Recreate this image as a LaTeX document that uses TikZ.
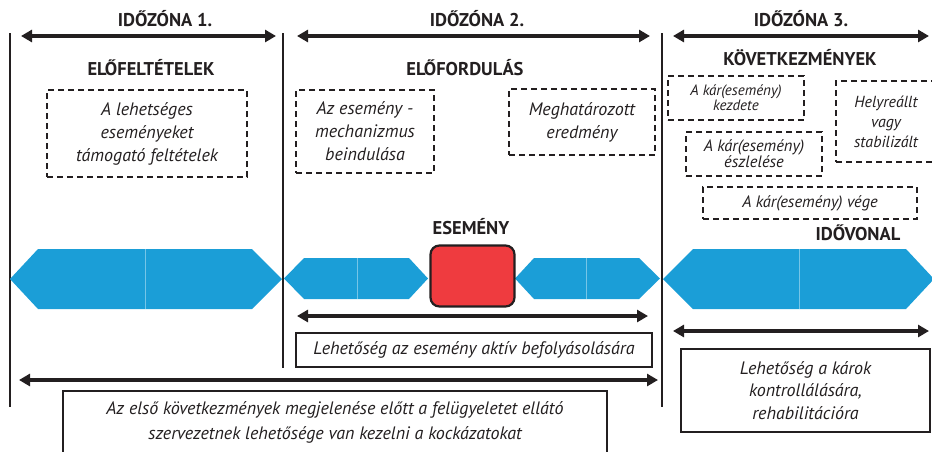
\documentclass[tikz,border=0pt]{standalone}
\usepackage{fontspec}
\setmainfont{PT Sans}
\usetikzlibrary{arrows.meta}
\definecolor{ink}{RGB}{35,31,32}
\definecolor{tlblue}{RGB}{27,158,215}
\definecolor{evred}{RGB}{239,59,63}
\tikzset{
  zonearrow/.style={ink, line width=3.6pt, {Triangle[length=11pt,width=12pt]}-{Triangle[length=11pt,width=12pt]}},
  divline/.style={ink, line width=1.4pt},
  heading/.style={font=\bfseries\fontsize{18.5}{20}\selectfont, text=ink, inner sep=0pt},
  dbox/.style={draw=ink, dashed, dash pattern=on 6pt off 4pt, line width=1.3pt, font=\itshape\fontsize{18}{23}\selectfont, text=ink, align=center, inner sep=0pt},
  sbox/.style={draw=ink, line width=1.2pt, font=\itshape\fontsize{18}{23}\selectfont, text=ink, align=center, inner sep=0pt},
  hexa/.style={fill=tlblue},
  hexdiv/.style={draw=white!40!tlblue, line width=0.6pt},
}
\begin{document}
\begin{tikzpicture}[x=1pt,y=-1pt]
\useasboundingbox (0,0) rectangle (932,451);
% vertical zone lines
\coordinate (v1t) at (10,33); \coordinate (v1b) at (10,407);
\coordinate (v2t) at (283,33); \coordinate (v2b) at (283,368);
\coordinate (v3t) at (662,33); \coordinate (v3b) at (662,407);
\draw[divline] (v1t) -- (v1b);
\draw[divline] (v2t) -- (v2b);
\draw[divline] (v3t) -- (v3b);
% zone labels and arrows
\node[heading] (z1) at (165,19) {IDŐZÓNA 1.};
\node[heading] (z2) at (477,19) {IDŐZÓNA 2.};
\node[heading] (z3) at (801,19) {IDŐZÓNA 3.};
\coordinate (z1a) at (21,36); \coordinate (z1b) at (276,36);
\coordinate (z2a) at (297,36); \coordinate (z2b) at (650,36);
\coordinate (z3a) at (673,36); \coordinate (z3b) at (929,36);
\draw[zonearrow] (z1a) -- (z1b);
\draw[zonearrow] (z2a) -- (z2b);
\draw[zonearrow] (z3a) -- (z3b);
% section headings
\node[heading] (h1) at (151,68) {ELŐFELTÉTELEK};
\node[heading] (h2) at (465,68) {ELŐFORDULÁS};
\node[heading] (h3) at (800,58) {KÖVETKEZMÉNYEK};
% dashed boxes
\node[dbox, minimum width=200pt, minimum height=87pt] (b1) at (147,133.5) {A lehetséges\\eseményeket\\támogató feltételek};
\node[dbox, minimum width=138pt, minimum height=83pt] (b2) at (365,131.5) {Az esemény -\\mechanizmus\\beindulása};
\node[dbox, minimum width=146pt, minimum height=66pt] (b3) at (582,122) {Meghatározott\\eredmény};
\node[dbox, font=\itshape\fontsize{15}{15}\selectfont, minimum width=136pt, minimum height=44pt] (b4) at (736,98) {A kár(esemény)\\kezdete};
\node[dbox, font=\itshape\fontsize{16.5}{16}\selectfont, minimum width=136pt, minimum height=44pt] (b5) at (754,154) {A kár(esemény)\\észlelése};
\node[dbox, font=\itshape\fontsize{16}{20}\selectfont, minimum width=100pt, minimum height=81pt] (b6) at (886,121.5) {Helyreállt\\vagy\\stabilizált};
\node[dbox, font=\itshape\fontsize{16.5}{16}\selectfont, minimum width=214pt, minimum height=32pt] (b7) at (810,203) {A kár(esemény) vége};
% timeline
\node[heading] (idov) at (858,233) {IDŐVONAL};
\node[heading] (esem) at (471,227) {ESEMÉNY};
\fill[hexa] (10,279) -- (38,249) -- (252,249) -- (282,279) -- (252,309) -- (38,309) -- cycle;
\draw[hexdiv] (145,249) -- (145,309);
\fill[hexa] (284,278.5) -- (304,258) -- (409,258) -- (428,278.5) -- (409,299) -- (304,299) -- cycle;
\draw[hexdiv] (357,258) -- (357,299);
\fill[hexa] (515,278.5) -- (534,258) -- (639,258) -- (660,278.5) -- (639,299) -- (534,299) -- cycle;
\draw[hexdiv] (586,258) -- (586,299);
\fill[hexa] (663,279) -- (693,249) -- (906,249) -- (934,279) -- (906,309) -- (693,309) -- cycle;
\draw[hexdiv] (799,249) -- (799,309);
\node[draw=ink, fill=evred, line width=2.2pt, rounded corners=9pt, minimum width=84pt, minimum height=61pt, inner sep=0pt] (ev) at (472.5,276) {};
% opportunity arrows and boxes
\coordinate (o1a) at (297,316); \coordinate (o1b) at (648,316);
\draw[zonearrow] (o1a) -- (o1b);
\node[sbox, minimum width=356pt, minimum height=34pt] (l1) at (474,350) {Lehetőség az esemény aktív befolyásolására};
\coordinate (o3a) at (673,331); \coordinate (o3b) at (929,331);
\draw[zonearrow] (o3a) -- (o3b);
\node[sbox, font=\itshape\fontsize{18}{22.5}\selectfont, minimum width=249pt, minimum height=83pt] (l3) at (805.5,390.5) {Lehetőség a károk\\kontrollálására,\\rehabilitációra};
\coordinate (o2a) at (19,380); \coordinate (o2b) at (658,380);
\draw[zonearrow] (o2a) -- (o2b);
\node[sbox, font=\itshape\fontsize{18}{25}\selectfont, minimum width=544pt, minimum height=62pt] (l2) at (335,422) {Az első következmények megjelenése előtt a felügyeletet ellátó\\szervezetnek lehetősége van kezelni a kockázatokat};
\end{tikzpicture}
\end{document}
